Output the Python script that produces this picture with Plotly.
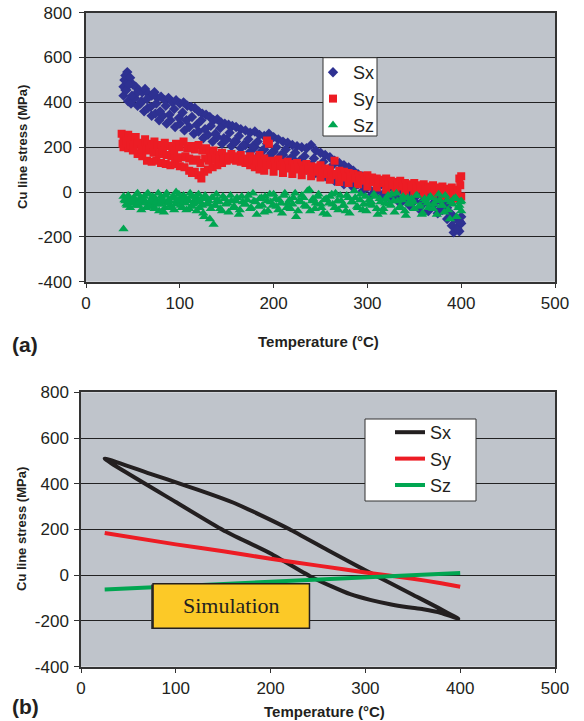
import plotly.graph_objects as go

# ---------------- (a) measured data ----------------
sx_T = [40, 41, 42, 44, 45, 47, 50, 53, 56, 60, 63, 66, 70, 73, 76, 80, 84, 88, 92, 96,
        100, 104, 108, 112, 116, 120, 124, 128, 132, 136, 140, 144, 148, 152, 156, 160, 165, 170, 175, 180,
        185, 190, 195, 200, 205, 210, 215, 220, 225, 230, 235, 240, 245, 250, 255, 260, 265, 270, 275, 280,
        285, 290, 295, 300, 305, 310, 315, 320, 325, 330, 335, 340, 345, 350, 355, 360, 365, 370, 375, 380,
        385, 390, 395, 398, 400,
        40, 42, 45, 48, 52, 55, 58, 62, 66, 70, 74, 78, 82, 86, 90, 95, 100, 105, 110, 115,
        120, 125, 130, 135, 140, 145, 150, 155, 160, 165, 170, 175, 180, 185, 190, 195, 200, 205, 210, 215,
        220, 225, 230, 235, 240, 245, 250, 255, 260, 265, 270, 275, 280, 285, 290, 295, 300, 305, 310, 315,
        320, 325, 330, 335, 340, 345, 350, 355, 360, 365, 370, 375, 380, 385, 390, 392, 395, 398, 400,
        43, 46, 49, 55, 59, 65, 69, 75, 79, 85, 89, 94, 99, 103, 107, 113, 118, 123, 127, 133,
        138, 143, 147, 153, 158, 163, 168, 173, 178, 183, 188, 193, 198, 203, 208, 213, 218, 223, 228, 233,
        238, 243, 248, 253, 258, 263, 268, 273, 278, 283, 288, 293, 298, 303, 308, 313, 318, 323, 328, 333,
        338, 343, 348, 353, 358, 363, 368, 373, 378, 383, 388, 393, 396, 399]
sx_V = [470, 500, 520, 535, 490, 510, 480, 470, 455, 445, 460, 440, 430, 445, 420, 425, 410, 420, 400, 410,
        395, 400, 385, 380, 375, 360, 350, 345, 335, 320, 325, 310, 305, 300, 295, 290, 280, 275, 265, 270,
        255, 250, 260, 245, 235, 225, 220, 210, 205, 200, 195, 210, 185, 175, 165, 155, 140, 130, 120, 110,
        95, 80, 70, 60, 50, 40, 35, 30, 25, 20, 15, 10, 5, 0, -5, -10, -20, -25, -35, -50,
        -70, -100, -120, -130, -110,
        430, 455, 405, 395, 420, 385, 395, 360, 375, 340, 350, 320, 340, 305, 320, 290, 305, 275, 290, 260,
        270, 240, 255, 225, 245, 215, 235, 205, 225, 195, 210, 180, 200, 170, 190, 160, 180, 150, 165, 140,
        150, 120, 135, 100, 120, 85, 100, 70, 85, 50, 65, 35, 50, 20, 35, 5, 20, -10, 5, -20,
        -5, -35, -20, -50, -30, -60, -40, -75, -50, -85, -60, -95, -80, -120, -150, -180, -160, -175, -140,
        455, 480, 430, 445, 405, 415, 380, 395, 360, 385, 345, 370, 330, 355, 320, 335, 300, 320, 280, 295,
        260, 285, 240, 265, 225, 250, 210, 235, 205, 225, 185, 215, 175, 200, 165, 190, 150, 175, 140, 160,
        120, 150, 105, 135, 90, 120, 80, 100, 60, 85, 40, 70, 25, 50, 10, 35, -5, 20, -15, 5,
        -25, -5, -35, -15, -45, -25, -60, -35, -75, -55, -95, -120, -165, -135]

sy_T = [38, 40, 42, 45, 48, 50, 53, 56, 60, 63, 66, 70, 73, 76, 80, 84, 88, 92, 96, 100,
        104, 108, 112, 116, 120, 124, 128, 132, 136, 140, 145, 150, 155, 160, 165, 170, 175, 180, 185, 190,
        193, 195, 198, 200, 205, 210, 215, 220, 225, 230, 235, 240, 245, 250, 255, 260, 265, 270, 275, 280,
        285, 290, 295, 300, 305, 310, 315, 320, 325, 330, 335, 340, 345, 350, 355, 360, 365, 370, 375, 380,
        385, 390, 395, 398, 400,
        40, 45, 50, 55, 60, 65, 70, 75, 80, 85, 90, 95, 100, 105, 110, 113, 116, 120, 123, 126,
        130, 135, 140, 145, 150, 155, 160, 165, 170, 175, 180, 185, 190, 200, 210, 220, 230, 240, 250, 260,
        270, 280, 290, 300, 310, 320, 330, 340, 350, 360, 370, 380, 390, 395, 400,
        39, 43, 47, 51, 55, 59, 64, 68, 72, 78, 82, 86, 91, 94, 98, 102, 106, 110, 114, 118,
        122, 127, 131, 134, 138, 142, 147, 152, 157, 162, 167, 172, 177, 182, 187, 192, 197, 202, 207, 212,
        217, 222, 227, 232, 237, 242, 247, 252, 257, 262, 267, 272, 277, 282, 287, 292, 297, 302, 307, 312,
        317, 322, 327, 332, 337, 342, 347, 352, 357, 362, 367, 372, 377, 382, 387, 392, 396, 399]
sy_V = [260, 240, 225, 255, 230, 215, 245, 220, 210, 235, 215, 205, 225, 210, 200, 220, 205, 195, 215, 200,
        225, 195, 205, 190, 210, 185, 195, 175, 185, 165, 175, 160, 170, 155, 165, 150, 160, 150, 165, 150,
        230, 215, 140, 135, 145, 130, 135, 125, 130, 120, 125, 115, 110, 120, 105, 100, 140, 95, 90, 85,
        80, 75, 70, 75, 65, 60, 55, 60, 50, 45, 50, 40, 35, 40, 30, 35, 25, 30, 20, 25,
        15, 20, 10, 60, 70,
        200, 195, 185, 170, 160, 140, 135, 140, 130, 125, 120, 125, 115, 110, 95, 85, 90, 75, 60, 90,
        100, 110, 120, 130, 140, 145, 140, 135, 130, 120, 110, 100, 95, 90, 85, 80, 75, 70, 65, 55,
        45, 40, 35, 25, 20, 10, 5, 0, -5, -10, -15, -20, -25, -30, -20,
        215, 230, 210, 200, 215, 190, 185, 195, 175, 170, 180, 165, 160, 170, 150, 155, 160, 150, 140, 145,
        130, 150, 140, 155, 145, 135, 150, 155, 160, 150, 145, 140, 145, 135, 130, 125, 120, 115, 120, 110,
        105, 110, 100, 95, 100, 90, 95, 85, 80, 75, 80, 70, 65, 70, 60, 55, 50, 55, 45, 40,
        45, 35, 30, 35, 25, 20, 25, 15, 20, 10, 15, 5, 10, 0, 5, -5, 0, 30]

sz_T = [40, 40, 42, 44, 46, 48, 50, 52, 54, 56, 58, 60, 62, 64, 66, 68, 70, 72, 74, 76,
        78, 80, 82, 84, 86, 88, 90, 92, 94, 96, 98, 100, 102, 104, 106, 108, 110, 112, 114, 116,
        118, 120, 122, 124, 126, 128, 130, 132, 134, 136, 138, 140, 143, 146, 149, 152, 155, 158, 161, 164,
        167, 170, 173, 176, 179, 182, 185, 188, 191, 194, 197, 200, 203, 206, 209, 212, 215, 218, 221, 224,
        227, 230, 233, 236, 239, 242, 245, 248, 251, 254, 257, 260, 263, 266, 269, 272, 275, 278, 281, 284,
        287, 290, 293, 296, 299, 302, 305, 308, 311, 314, 317, 320, 323, 326, 329, 332, 335, 338, 341, 344,
        347, 350, 353, 356, 359, 362, 365, 368, 371, 374, 377, 380, 383, 386, 389, 392, 395, 398, 400, 400,
        41, 43, 45, 47, 49, 51, 53, 55, 57, 59, 61, 63, 65, 67, 69, 71, 73, 75, 77, 79,
        81, 83, 85, 87, 89, 91, 93, 95, 97, 99, 101, 103, 105, 107, 109, 111, 113, 115, 117, 119,
        121, 123, 125, 127, 129, 131, 133, 135, 137, 139, 142, 145, 148, 151, 154, 157, 160, 163, 166, 169,
        172, 175, 178, 181, 184, 187, 190, 193, 196, 199, 202, 205, 208, 211, 214, 217, 220, 223, 226, 229,
        232, 235, 238, 241, 244, 247, 250, 253, 256, 259, 262, 265, 268, 271, 274, 277, 280, 283, 286, 289,
        292, 295, 298, 301, 304, 307, 310, 313, 316, 319, 322, 325, 328, 331, 334, 337, 340, 343, 346, 349,
        352, 355, 358, 361, 364, 367, 370, 373, 376, 379, 382, 385, 388, 391, 394, 397, 399]
sz_V = [-20, -165, -40, -60, -30, -50, -45, -35, -10, -60, -25, -45, -20, -70, -5, -50, -40, -65, -30, -55,
        -85, -20, -45, -70, -5, -35, -60, -25, -80, 0, -45, -30, -70, -15, -50, -40, -75, -20, -55, -35,
        -85, -10, -45, -60, -110, -30, -50, -120, -25, -145, -60, -35, -75, -20, -55, -90, -40, -65, -25, -80,
        -45, -55, -15, -70, -40, -100, -30, -60, -20, -85, -45, -10, -65, -35, -95, -5, -50, -75, -25, -110,
        -40, -15, -60, 5, -85, -30, -50, -10, -70, -35, -100, -20, -55, -5, -80, -40, -60, -15, -95, -45,
        -25, -70, -10, -55, -85, -35, -60, -20, -100, -45, -75, -30, -55, -10, -90, -40, -65, -20, -105, -50,
        -30, -75, -15, -60, -95, -40, -70, -25, -55, -100, -35, -60, -15, -80, -45, -30, -110, -60, -40, -85,
        -35, -55, -15, -70, -40, -25, -60, -5, -45, -80, -30, -50, -10, -65, -35, -20, -75, -45, -5, -55,
        -30, -90, -15, -50, -40, -70, -20, -55, -35, -10, -60, -45, -25, -80, -35, -5, -65, -50, -20, -40,
        -70, -30, -95, -15, -55, -40, -75, -25, -60, -10, -45, -85, -30, -50, -15, -70, -40, -100, -20, -55,
        -35, -75, -5, -45, -65, -25, -90, -40, -10, -60, -30, -80, -50, -15, -70, -35, -55, -5, -85, -45,
        -25, -65, 10, -40, -75, -20, -55, -95, -30, -50, -10, -70, -40, -15, -60, -85, -25, -45, 5, -65,
        -35, -80, -20, -55, -45, -10, -75, -30, -90, -50, -15, -60, -40, -5, -70, -35, -85, -25, -55, -45,
        -15, -65, -100, -30, -50, -20, -75, -40, -10, -60, -90, -35, -120, -55, -25, -70, -45]

# ---------------- (b) simulation ----------------
sim_sx_T = [25, 100, 150, 200, 241, 265, 284, 305, 326, 345, 361, 380, 398,
            350, 301, 260, 220, 190, 161, 135, 111, 70, 25]
sim_sx_V = [510, 320, 197, 95, -3, -50, -83, -108, -127, -140, -149, -165, -190,
            -85, 19, 110, 201, 262, 317, 357, 391, 448, 510]
sim_sy_T = [25, 100, 150, 200, 250, 300, 350, 380, 400]
sim_sy_V = [185, 135, 105, 72, 42, 12, -15, -35, -50]
sim_sz_T = [25, 100, 200, 300, 400]
sim_sz_V = [-62, -47, -27, -8, 10]

x_ticks = [0, 100, 200, 300, 400, 500]
y_ticks = [-400, -200, 0, 200, 400, 600, 800]
y_tick_labels = ["-400", "-200", "0", "200", "400", "600", "800"]

BLUE = "#2E3192"
RED = "#ED1C24"
GREEN = "#00A651"
BLACK = "#231F20"
BG = "#BFC4CB"
FONT = "Liberation Sans, Arial, sans-serif"

W, H = 584, 721

fig = go.Figure()

fig.add_trace(go.Scatter(x=sx_T, y=sx_V, mode="markers", name="Sx",
                         marker=dict(symbol="diamond", size=8, color=BLUE),
                         xaxis="x", yaxis="y", legend="legend"))
fig.add_trace(go.Scatter(x=sy_T, y=sy_V, mode="markers", name="Sy",
                         marker=dict(symbol="square", size=8, color=RED),
                         xaxis="x", yaxis="y", legend="legend"))
fig.add_trace(go.Scatter(x=sz_T, y=sz_V, mode="markers", name="Sz",
                         marker=dict(symbol="triangle-up", size=9, color=GREEN),
                         xaxis="x", yaxis="y", legend="legend"))

fig.add_trace(go.Scatter(x=sim_sx_T, y=sim_sx_V, mode="lines", name="Sx",
                         line=dict(color=BLACK, width=4, shape="spline", smoothing=0.5),
                         xaxis="x2", yaxis="y2", legend="legend2"))
fig.add_trace(go.Scatter(x=sim_sy_T, y=sim_sy_V, mode="lines", name="Sy",
                         line=dict(color=RED, width=4, shape="spline", smoothing=0.5),
                         xaxis="x2", yaxis="y2", legend="legend2"))
fig.add_trace(go.Scatter(x=sim_sz_T, y=sim_sz_V, mode="lines", name="Sz",
                         line=dict(color=GREEN, width=4),
                         xaxis="x2", yaxis="y2", legend="legend2"))

def px_x(p):
    return p / W

def px_y(p):
    return 1 - p / H

axis_common = dict(showline=True, linecolor="#333333", linewidth=1.5, mirror=True,
                   ticks="outside", ticklen=5, tickwidth=1, tickcolor="#333333",
                   tickfont=dict(family=FONT, size=17, color=BLACK), zeroline=False,
                   automargin=False)

legend_font = dict(family=FONT, size=18, color=BLACK)

fig.update_layout(
    width=W, height=H,
    margin=dict(l=0, r=0, t=0, b=0, autoexpand=False),
    paper_bgcolor="white",
    plot_bgcolor=BG,
    showlegend=True,
    xaxis=dict(domain=[px_x(86), px_x(555)], range=[0, 500], tickvals=x_ticks,
               showgrid=False, anchor="y", **axis_common),
    yaxis=dict(domain=[px_y(281.7), px_y(12.7)], range=[-400, 800],
               tickvals=y_ticks, ticktext=y_tick_labels,
               showgrid=True, gridcolor="#222222", gridwidth=1, anchor="x",
               ticklabelstandoff=4, **axis_common),
    xaxis2=dict(domain=[px_x(81), px_x(555)], range=[0, 500], tickvals=x_ticks,
                showgrid=False, anchor="y2", **axis_common),
    yaxis2=dict(domain=[px_y(666.7), px_y(392.3)], range=[-400, 800],
                tickvals=y_ticks, ticktext=y_tick_labels,
                showgrid=True, gridcolor="#222222", gridwidth=1, anchor="x2",
                ticklabelstandoff=2, **axis_common),
    legend=dict(x=px_x(313), y=px_y(54), xanchor="left", yanchor="top",
                bgcolor="rgba(0,0,0,0)", borderwidth=0,
                font=legend_font, itemwidth=30, tracegroupgap=0),
    legend2=dict(x=px_x(390), y=px_y(414), xanchor="left", yanchor="top",
                 bgcolor="rgba(0,0,0,0)", borderwidth=0,
                 font=legend_font, itemwidth=30, tracegroupgap=0),
)

# legend frames
fig.add_shape(type="rect", xref="paper", yref="paper",
              x0=px_x(323), x1=px_x(377), y0=px_y(136), y1=px_y(57.7),
              fillcolor="white", line=dict(color="#333333", width=1), layer="above")
fig.add_shape(type="rect", xref="paper", yref="paper",
              x0=px_x(365), x1=px_x(476), y0=px_y(501), y1=px_y(419),
              fillcolor="white", line=dict(color="#333333", width=1), layer="above")

# Simulation label box (with slight shadow)
fig.add_shape(type="rect", xref="x2", yref="y2", x0=74, x1=239, y0=-235, y1=-40,
              fillcolor="#333333", line=dict(width=0), layer="above")
fig.add_shape(type="rect", xref="x2", yref="y2", x0=76, x1=241, y0=-232, y1=-37,
              fillcolor="#FCC927", line=dict(color=BLACK, width=1.5), layer="above")
fig.add_annotation(x=158.5, y=-134, xref="x2", yref="y2", text="Simulation", showarrow=False,
                   font=dict(family="Liberation Serif, Times New Roman, serif", size=22, color=BLACK))

xtitle_font = dict(family=FONT, size=15, color=BLACK)
ytitle_font = dict(family=FONT, size=13, color=BLACK)
annots = [
    dict(x=px_x(318), y=px_y(341), text="<b>Temperature (°C)</b>", font=xtitle_font),
    dict(x=px_x(324), y=px_y(711), text="<b>Temperature (°C)</b>", font=xtitle_font),
    dict(x=px_x(22), y=px_y(147), text="<b>Cu line stress (MPa)</b>", font=ytitle_font, textangle=-90),
    dict(x=px_x(21), y=px_y(529), text="<b>Cu line stress (MPa)</b>", font=ytitle_font, textangle=-90),
    dict(x=px_x(25), y=px_y(344), text="<b>(a)</b>", font=dict(family=FONT, size=21, color=BLACK)),
    dict(x=px_x(25), y=px_y(706), text="<b>(b)</b>", font=dict(family=FONT, size=21, color=BLACK)),
]
for a in annots:
    fig.add_annotation(xref="paper", yref="paper", showarrow=False,
                       xanchor="center", yanchor="middle", **a)

fig.write_html("out.html", config={"displayModeBar": False},
               post_script="document.body.style.margin='0';document.body.style.overflow='hidden';")
